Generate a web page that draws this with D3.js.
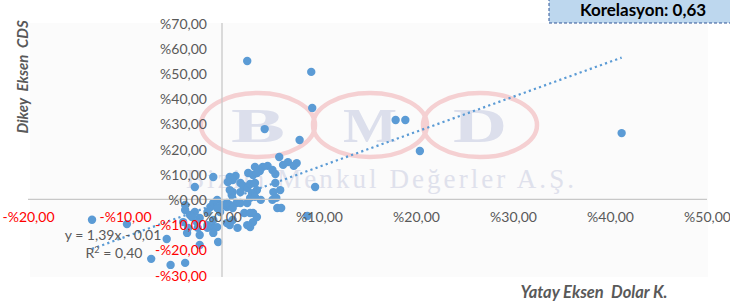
<!DOCTYPE html>
<html>
<head>
<meta charset="utf-8">
<script src="https://cdnjs.cloudflare.com/ajax/libs/d3/7.8.5/d3.min.js"></script>
<style>
  body { margin: 0; background: #fff; }
  svg { display: block; font-family: Lato, "Open Sans", sans-serif; }
</style>
</head>
<body>
<div id="root"></div>
<script>
// values in percent
const dolar_x = [2.6, 9.2, 9.3, 4.4, 8.0, 17.9, 18.9, 20.4, 41.2, 9.6, 8.8, -13.4, -9.8, -5.7, -7.3, -5.3, -3.8, -0.4, -2.3,
  5.9, 6.8, 7.7, 7.4, 6.3, 4.7, 4.2, 5.2, 3.9, 5.5, 3.4, 3.2, 3.6, 2.7, 1.4, 1.1, 0.8, -0.9, 0.6, 1.9, 2.2, 2.6, 2.9, 3.4,
  3.6, 3.1, 5.5, 6.0, 5.3, 1.1, 1.0, 1.9, 0.8, 2.9, -2.8, 3.4, 4.0, 5.2, 5.6,
  -0.5, -0.9, 0.1, -1.2, -1.5, -0.2, 0.5, 0.8, 1.5, 1.1, 5.7, 6.1, 2.3, 3.2, 0.8, 1.6, 2.9, 3.2, -1.5, -0.9,
  -3.8, -2.8, -3.3, -2.3, -0.9, -1.5, -0.5, -0.9, 0.5, 1.1, 2.6, 2.9, 3.6, 1.9, 2.6, -3.8, -4.0, -3.5, -2.5,
  -2.3, -3.6, -0.2, 0.5, -0.5, -2.6, -3.1]
const cds_y = [54.9, 50.6, 36.3, 27.9, 23.6, 31.5, 31.5, 19.2, 26.3, 4.9, -6.6, -8.1, -9.8, -15.7, -23.6, -26.0, -25.2, -16.9, -18.1,
  16.8, 14.8, 14.4, 13.3, 13.7, 13.3, 12.9, 11.7, 11.3, 10.1, 12.9, 9.7, 10.5, 10.5, 9.3, 7.7, 8.9, 8.9, 6.9, 6.5, 5.3, 4.5, 6.1, 6.5,
  3.7, 2.5, 6.5, 3.7, 2.9, 2.9, 1.7, 2.9, 3.7, 0.6, 4.9, 1.0, -0.2, -0.2, 0.6,
  -0.2, -1.4, -2.2, -3.0, -5.0, -3.0, -3.0, -2.2, -1.4, -3.4, -3.4, -3.4, -5.4, -5.4, -10.2, -11.3, -11.0, -9.0, -11.3, -11.0,
  -4.2, -5.0, -6.2, -7.4, -8.2, -10.2, -11.0, -13.3, -9.4, -8.2, -10.2, -5.4, -7.0, -1.4, -1.4, -2.2, -9.0, -11.3, -11.3,
  -14.1, -13.3, -5.0, -1.4, -3.4, -9.0, -7.0]

const x_ticks = [-20, -10, 0, 10, 20, 30, 40, 50]
const y_ticks = [-30, -20, -10, 0, 10, 20, 30, 40, 50, 60, 70]

const trend_slope = 1.39
const trend_intercept = -0.01   // in fraction units
const korelasyon = "0,63"
const r_kare = "0,40"

const W = 730, H = 302

const fmt = v => (v < 0 ? "-%" : "%") + Math.abs(v).toFixed(2).replace(".", ",")

const x_scale = d3.scaleLinear().domain([-20, 50]).range([28, 707])
const y_scale = d3.scaleLinear().domain([-30, 70]).range([275, 23])

const svg = d3.select("#root").append("svg")
  .attr("width", W).attr("height", H)

// plot area
svg.append("rect")
  .attr("x", 30).attr("y", 23).attr("width", 678).attr("height", 254)
  .attr("fill", "#fbfbfb")

// BMD watermark
const logo = svg.append("g")
const ring_centers = [258, 370, 480]
const ring_letters = ["B", "M", "D"]
logo.selectAll("ellipse").data(ring_centers).enter().append("ellipse")
  .attr("cx", d => d).attr("cy", 125).attr("rx", 57).attr("ry", 32)
  .attr("fill", "none").attr("stroke", "#f5d0d2").attr("stroke-width", 4.5)
logo.selectAll("text.letter").data(ring_letters).enter().append("text")
  .attr("class", "letter")
  .attr("x", (d, i) => ring_centers[i] - 27).attr("y", 142)
  .attr("textLength", 54).attr("lengthAdjust", "spacingAndGlyphs")
  .style("font-family", "'Liberation Serif', serif").style("font-weight", "bold")
  .style("font-size", "48px").attr("fill", "#dcdfec")
  .text(d => d)
logo.append("text")
  .attr("x", 186).attr("y", 188)
  .attr("textLength", 388).attr("lengthAdjust", "spacing")
  .style("font-family", "'Liberation Serif', serif").style("font-size", "27px")
  .attr("fill", "#dfe1ec")
  .text("Bizim Menkul Değerler A.Ş.")

// axes lines
const x_axis = svg.append("g")
  .attr("transform", "translate(0," + y_scale(0) + ")")
  .call(d3.axisBottom(x_scale).tickValues(x_ticks).tickSize(0).tickPadding(13).tickFormat(fmt))
x_axis.select(".domain").attr("stroke", "#c8c8c8").attr("stroke-width", 1.3)
  .attr("d", "M" + (x_scale(-20)) + ",0H" + x_scale(50))

const y_axis = svg.append("g")
  .attr("transform", "translate(" + x_scale(0) + ",0)")
  .call(d3.axisLeft(y_scale).tickValues(y_ticks).tickSize(0).tickPadding(15).tickFormat(fmt))
y_axis.select(".domain").attr("stroke", "#c8c8c8").attr("stroke-width", 1.3)
  .attr("d", "M0," + y_scale(70) + "V" + (y_scale(-30) + 2))

// points
const points = dolar_x.map((x, i) => ({x: x, y: cds_y[i]}))
svg.append("g").selectAll("circle").data(points).enter().append("circle")
  .attr("cx", d => x_scale(d.x)).attr("cy", d => y_scale(d.y))
  .attr("r", 4.2).attr("fill", "#5b9bd5")

// trendline over the data x range
const x_ext = d3.extent(dolar_x)
const trend = x_ext.map(x => ({x: x, y: (trend_slope * x / 100 + trend_intercept) * 100}))
svg.append("path")
  .attr("d", d3.line().x(d => x_scale(d.x)).y(d => y_scale(d.y))(trend))
  .attr("fill", "none").attr("stroke", "#5b9bd5").attr("stroke-width", 2.2)
  .attr("stroke-dasharray", "2.2,3.2")

// tick labels on top
for (const ax of [x_axis, y_axis]) {
  ax.raise()
  ax.selectAll(".tick text")
    .style("font-family", "Lato, sans-serif").style("font-size", "14px")
    .attr("fill", d => d < 0 ? "#ff0000" : "#595959")
}
y_axis.selectAll(".tick text").attr("dy", "0.36em")

// equation
const eq = svg.append("g").style("font-size", "14px").attr("fill", "#595959")
eq.append("text").attr("x", 113).attr("y", 240).attr("text-anchor", "middle")
  .text("y = " + String(trend_slope).replace(".", ",") + "x - " + Math.abs(trend_intercept).toFixed(2).replace(".", ","))
const r2 = eq.append("text").attr("x", 114).attr("y", 258).attr("text-anchor", "middle")
r2.append("tspan").text("R")
r2.append("tspan").attr("dy", -5).style("font-size", "9px").text("2")
r2.append("tspan").attr("dy", 5).text(" = " + r_kare)

// axis titles
svg.append("text")
  .attr("transform", "translate(28,77) rotate(-90)")
  .attr("text-anchor", "middle")
  .style("font-weight", "bold").style("font-style", "italic").style("font-size", "15px")
  .attr("fill", "#595959")
  .attr("xml:space", "preserve")
  .text("Dikey  Eksen  CDS")

svg.append("text")
  .attr("x", 594).attr("y", 298).attr("text-anchor", "middle")
  .style("font-weight", "bold").style("font-style", "italic").style("font-size", "16.5px")
  .attr("fill", "#595959")
  .attr("xml:space", "preserve")
  .text("Yatay Eksen  Dolar K.")

// correlation box
svg.append("rect")
  .attr("x", 549).attr("y", -5).attr("width", 190).attr("height", 28)
  .attr("fill", "#bdd7ee").attr("stroke", "#2f5597").attr("stroke-width", 1)
  .attr("stroke-dasharray", "3,2")
svg.append("text")
  .attr("x", 643).attr("y", 16).attr("text-anchor", "middle")
  .style("font-weight", "bold").style("font-size", "17px").attr("fill", "#000")
  .text("Korelasyon: " + korelasyon)
</script>
</body>
</html>
